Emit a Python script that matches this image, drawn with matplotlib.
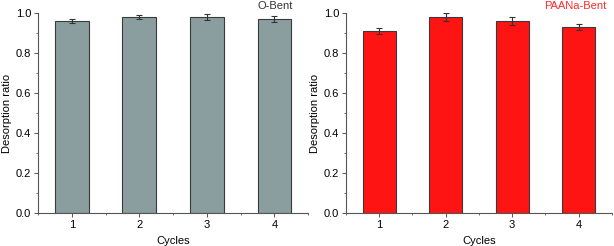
import matplotlib
matplotlib.use("Agg")
import matplotlib.pyplot as plt
from matplotlib.ticker import MultipleLocator

plt.rcParams['font.family'] = ['Liberation Sans', 'DejaVu Sans']

cycles = [1, 2, 3, 4]
obent = [0.96, 0.98, 0.98, 0.97]
obent_err = [0.012, 0.010, 0.013, 0.014]
paana = [0.91, 0.98, 0.96, 0.93]
paana_err = [0.013, 0.018, 0.018, 0.016]

fig = plt.figure(figsize=(6.14, 2.46), dpi=100)
ax1 = fig.add_axes([0.062, 0.134, 0.440, 0.813])
ax2 = fig.add_axes([0.5635, 0.134, 0.433, 0.813])

panels = [
    (ax1, obent, obent_err, "#8a9ea0", "O-Bent", "#333333", 0.945),
    (ax2, paana, paana_err, "#ff1414", "PAANa-Bent", "#ff2a2a", 0.98),
]

for ax, vals, err, col, name, tcol, tx in panels:
    ax.bar(cycles, vals, width=0.5, color=col, edgecolor="#3a3a3a", linewidth=0.8,
           yerr=err, error_kw=dict(ecolor="#333333", elinewidth=0.8, capsize=2.5, capthick=0.8))
    ax.set_xlim(0.5, 4.5)
    ax.set_ylim(0, 1.0)
    ax.set_xticks(cycles)
    ax.xaxis.set_minor_locator(MultipleLocator(0.5))
    ax.yaxis.set_major_locator(MultipleLocator(0.2))
    ax.yaxis.set_minor_locator(MultipleLocator(0.1))
    ax.yaxis.set_major_formatter(matplotlib.ticker.FormatStrFormatter("%.1f"))
    ax.spines["top"].set_visible(False)
    ax.spines["right"].set_visible(False)
    for s in ["left", "bottom"]:
        ax.spines[s].set_color("#555555")
        ax.spines[s].set_linewidth(0.8)
    ax.tick_params(which="major", length=3, width=0.7, color="#555555", labelsize=8, pad=2)
    ax.tick_params(which="minor", length=1.5, width=0.6, color="#555555")
    ax.set_xlabel("Cycles", fontsize=8, labelpad=4)
    ax.set_ylabel("Desorption ratio", fontsize=8, labelpad=3)
    ax.text(tx, 1.035, name, transform=ax.transAxes, ha="right", va="center",
            fontsize=8, color=tcol)

fig.savefig("out.png", dpi=100)
